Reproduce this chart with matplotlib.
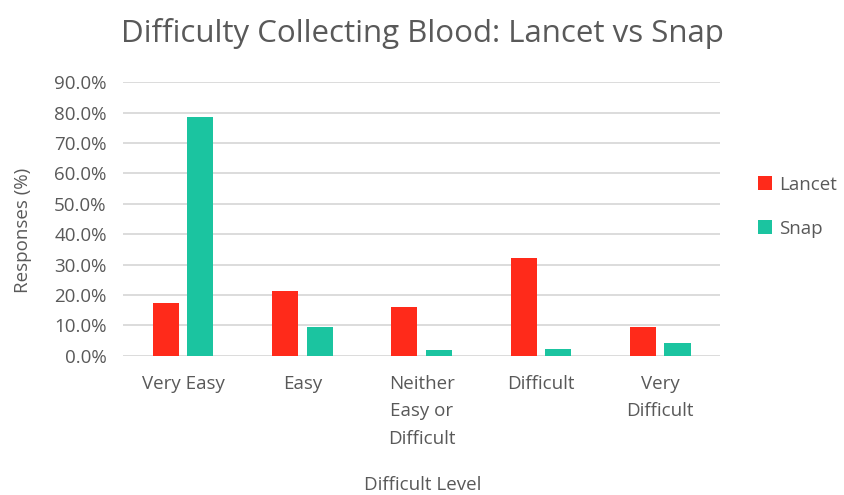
import numpy as np
import matplotlib.pyplot as plt
from matplotlib.ticker import PercentFormatter

# Data
categories = ['Very Easy', 'Easy', 'Neither\nEasy or\nDifficult', 'Difficult', 'Very\nDifficult']
lancet = [17.3, 21.2, 16.1, 32.2, 9.5]
snap = [78.5, 9.5, 1.8, 2.4, 4.4]

plt.rcParams['font.family'] = ['Open Sans', 'DejaVu Sans']
grey = '#595959'

fig = plt.figure(figsize=(8.45, 4.95), dpi=100)
ax = fig.add_axes([0.146, 0.281, 0.706, 0.553])

x = np.arange(len(categories))
w = 0.22
ax.bar(x - 0.145, lancet, w, color='#FF2A1A', label='Lancet', zorder=3)
ax.bar(x + 0.145, snap, w, color='#1BC4A0', label='Snap', zorder=3)

ax.set_xlim(-0.5, len(categories) - 0.5)
ax.set_ylim(0, 90)
ax.set_yticks(np.arange(0, 91, 10))
ax.yaxis.set_major_formatter(PercentFormatter(decimals=1))
ax.grid(axis='y', color='#D9D9D9', linewidth=1.3, zorder=0)
for s in ax.spines.values():
    s.set_visible(False)
ax.tick_params(length=0, colors=grey, labelsize=13.5)
ax.tick_params(axis='y', pad=12)
ax.tick_params(axis='x', pad=14)
ax.set_xticks(x)
ax.set_xticklabels(categories, linespacing=1.65)

ax.set_ylabel('Responses (%)', color=grey, fontsize=13.5)
ax.yaxis.set_label_coords(-0.153, 0.46)
fig.text(0.50, 0.02, 'Difficult Level', ha='center', va='center', color=grey, fontsize=13.5)
fig.text(0.5, 0.932, 'Difficulty Collecting Blood: Lancet vs Snap', ha='center',
         va='center', color=grey, fontsize=22.5)

leg = ax.legend(loc='center left', bbox_to_anchor=(1.035, 0.545), frameon=False,
                fontsize=13.5, handlelength=0.75, handleheight=0.75, labelspacing=1.4,
                handletextpad=0.4)
for t in leg.get_texts():
    t.set_color(grey)

fig.savefig('out.png')
